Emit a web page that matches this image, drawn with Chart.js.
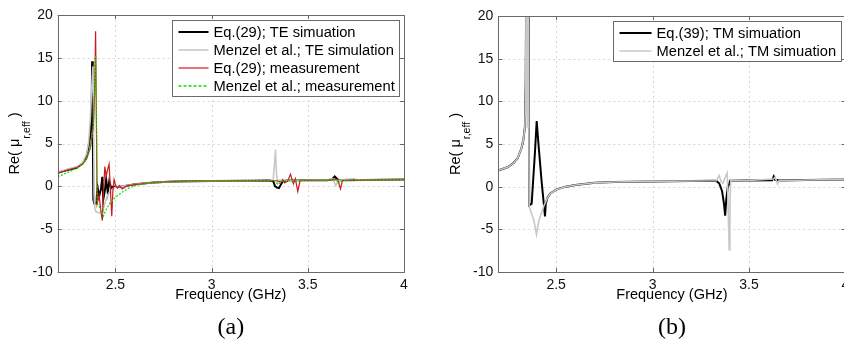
<!DOCTYPE html>
<html>
<head>
<meta charset="utf-8">
<script src="https://cdn.jsdelivr.net/npm/chart.js@4.4.0/dist/chart.umd.min.js"></script>
<style>
  html, body { margin: 0; padding: 0; background: #fff; overflow: hidden; }
  .chart-container { position: absolute; top: 0; height: 342px; }
</style>
</head>
<body>
<div class="chart-container" style="left:0px;width:420px"><canvas id="chartA" width="420" height="342"></canvas></div>
<div class="chart-container" style="left:420px;width:440px"><canvas id="chartB" width="440" height="342"></canvas></div>
<script>
// axis ticks (both panels)
const freqTicks = [2.5, 3, 3.5, 4];
const muTicks = [-10, -5, 0, 5, 10, 15, 20];

// (a) TE - Eq.(29) simulation
const teEqFreq = [2.2, 2.25, 2.3, 2.33, 2.35, 2.36, 2.37, 2.376, 2.379, 2.382, 2.385, 2.39, 2.4, 2.408, 2.415, 2.425, 2.432, 2.437, 2.445, 2.452, 2.46, 2.468, 2.478, 2.49, 2.51, 2.55, 2.6, 2.7, 2.8, 2.9, 3.0, 3.2, 3.3, 3.32, 3.33, 3.34, 3.35, 3.36, 3.37, 3.4, 3.6, 3.625, 3.64, 3.655, 3.67, 3.8, 4.0];
const teEqVal = [1.6, 1.9, 2.2, 2.7, 3.5, 4.6, 6.0, 8, 14.6, 8, -1.5, -2.0, -2.0, -0.2, -1.2, -0.3, 1.1, -1.5, -0.5, 0.8, -0.7, 0.6, -0.2, 0, -0.1, 0.05, 0.25, 0.45, 0.55, 0.6, 0.62, 0.66, 0.68, 0.6, 0.0, -0.15, -0.2, 0.2, 0.6, 0.7, 0.72, 0.8, 1.15, 0.8, 0.72, 0.75, 0.8];

// (a) TE - Menzel et al. simulation
const teMenzelFreq = [2.2, 2.25, 2.3, 2.33, 2.35, 2.36, 2.37, 2.378, 2.383, 2.386, 2.389, 2.393, 2.4, 2.42, 2.435, 2.445, 2.46, 2.48, 2.5, 2.55, 2.6, 2.7, 2.8, 2.9, 3.0, 3.2, 3.3, 3.32, 3.328, 3.332, 3.337, 3.342, 3.35, 3.6, 3.63, 3.645, 3.66, 3.74, 3.76, 4.0];
const teMenzelVal = [1.7, 2.0, 2.3, 2.8, 3.8, 5, 8, 12, 14.0, 10, -1, -2.6, -3.0, -3.1, -2.9, -2.0, -1.0, -0.4, -0.1, 0.05, 0.25, 0.45, 0.55, 0.6, 0.62, 0.66, 0.68, 0.7, 3, 4.3, 1.5, 0.5, 0.7, 0.72, 0.9, 0.1, 0.7, 0.9, 0.75, 0.8];

// (a) TE - Eq.(29) measurement
const teEqMeasFreq = [2.2, 2.25, 2.3, 2.33, 2.35, 2.37, 2.385, 2.392, 2.397, 2.401, 2.405, 2.415, 2.425, 2.432, 2.438, 2.445, 2.452, 2.46, 2.467, 2.472, 2.481, 2.487, 2.493, 2.5, 2.51, 2.52, 2.535, 2.56, 2.6, 2.7, 2.8, 2.9, 3.0, 3.2, 3.34, 3.36, 3.37, 3.38, 3.395, 3.41, 3.425, 3.435, 3.448, 3.46, 3.6, 3.655, 3.67, 3.68, 3.8, 4.0];
const teEqMeasVal = [1.5, 1.9, 2.2, 2.6, 3.2, 4.5, 7, 11, 18.1, 8, -2.0, -1.0, -3.0, -4.0, -0.5, 2.3, 1.2, 2.0, 2.6, 0.5, -3.5, -0.5, 0.8, 0.2, -0.2, 0.1, -0.3, 0.05, 0.2, 0.45, 0.55, 0.6, 0.62, 0.66, 0.65, 0.5, 0.8, 0.4, 0.6, 1.4, 0.3, 0.9, -0.6, 0.7, 0.72, 0.8, -0.3, 0.7, 0.75, 0.8];

// (a) TE - Menzel et al. measurement
const teMenzelMeasFreq = [2.2, 2.25, 2.3, 2.33, 2.35, 2.37, 2.385, 2.392, 2.398, 2.402, 2.406, 2.415, 2.425, 2.437, 2.45, 2.47, 2.49, 2.51, 2.54, 2.57, 2.6, 2.65, 2.7, 2.8, 2.9, 3.0, 3.2, 3.33, 3.345, 3.36, 3.4, 3.6, 3.65, 3.66, 3.67, 3.8, 4.0];
const teMenzelMeasVal = [1.1, 1.6, 2.1, 2.6, 3.3, 4.5, 7, 11, 15.3, 6, -2.0, -2.3, -2.8, -3.5, -2.8, -2.0, -1.5, -1.1, -0.6, -0.2, 0.05, 0.3, 0.4, 0.52, 0.58, 0.62, 0.66, 0.65, 0.2, 0.6, 0.7, 0.72, 0.72, 0.35, 0.7, 0.75, 0.8];

// (b) TM - Eq.(39) simulation
const tmEqFreq = [2.2, 2.25, 2.28, 2.3, 2.32, 2.33, 2.338, 2.342, 2.345, 2.357, 2.36, 2.373, 2.38, 2.39, 2.399, 2.41, 2.425, 2.438, 2.442, 2.446, 2.455, 2.47, 2.5, 2.55, 2.6, 2.7, 2.8, 3.0, 3.2, 3.33, 3.345, 3.36, 3.37, 3.376, 3.382, 3.39, 3.397, 3.402, 3.5, 3.62, 3.628, 3.635, 3.66, 3.8, 4.0];
const tmEqVal = [1.9, 2.3, 2.8, 3.3, 4.5, 5.5, 7, 12, 25, 25, -2.2, -2.0, 0.5, 4, 7.7, 4.5, 0.5, -2.5, -3.5, -2.0, -1.3, -0.8, -0.35, 0, 0.2, 0.45, 0.55, 0.62, 0.66, 0.68, 0.4, -0.5, -2.0, -3.4, -1.5, 0.0, 0.3, 0.7, 0.72, 0.75, 1.2, 0.8, 0.72, 0.78, 0.85];

// (b) TM - Menzel et al. simulation
const tmMenzelFreq = [2.2, 2.25, 2.28, 2.3, 2.32, 2.33, 2.338, 2.342, 2.344, 2.347, 2.35, 2.353, 2.356, 2.36, 2.37, 2.385, 2.398, 2.41, 2.425, 2.437, 2.446, 2.455, 2.47, 2.5, 2.55, 2.6, 2.7, 2.8, 3.0, 3.2, 3.33, 3.345, 3.355, 3.365, 3.38, 3.387, 3.392, 3.397, 3.401, 3.405, 3.5, 3.625, 3.635, 3.648, 3.655, 3.8, 4.0];
const tmMenzelVal = [1.9, 2.3, 2.8, 3.3, 4.5, 5.5, 7, 11.5, 25, 25, 7, 25, 25, -2.3, -3.0, -4.0, -5.6, -4.0, -3.0, -2.2, -1.8, -1.3, -0.8, -0.35, 0, 0.2, 0.45, 0.55, 0.62, 0.66, 0.7, 1.3, 0.6, 0.4, 1.3, 1.6, -3, -7.4, -2, 0.7, 0.72, 0.9, 1.1, 0.3, 0.7, 0.78, 0.85];

const labelsA = ["Eq.(29); TE simuation", "Menzel et al.; TE simulation", "Eq.(29); measurement", "Menzel et al.; measurement"];
const labelsB = ["Eq.(39); TM simuation", "Menzel et al.; TM simuation"];

const SANS = '"Liberation Sans", Arial, sans-serif';

function toPoints(freq, val) {
  return freq.map((f, i) => ({ x: f, y: val[i] }));
}

function makeSet(label, freq, val, color, width, order, dash) {
  return {
    label: label,
    data: toPoints(freq, val),
    borderColor: color,
    backgroundColor: color,
    borderWidth: width,
    borderDash: dash || [],
    pointRadius: 0,
    tension: 0,
    fill: false,
    order: order,
  };
}

// frame, grid, inner ticks, legend and titles, matlab style
const figurePlugin = {
  id: "figure",
  beforeDatasetsDraw(chart) {
    const ctx = chart.ctx;
    const a = chart.chartArea;
    const xs = chart.scales.x, ys = chart.scales.y;
    ctx.save();
    ctx.strokeStyle = "#d6d6d6";
    ctx.lineWidth = 1;
    ctx.setLineDash([2, 3]);
    ctx.beginPath();
    freqTicks.forEach((v) => {
      const px = Math.round(xs.getPixelForValue(v)) + 0.5;
      ctx.moveTo(px, a.top); ctx.lineTo(px, a.bottom);
    });
    muTicks.forEach((v) => {
      const py = Math.round(ys.getPixelForValue(v)) + 0.5;
      ctx.moveTo(a.left, py); ctx.lineTo(a.right, py);
    });
    ctx.stroke();
    ctx.restore();
  },
  afterDraw(chart, args, opts) {
    const ctx = chart.ctx;
    const a = chart.chartArea;
    const xs = chart.scales.x, ys = chart.scales.y;
    ctx.save();

    // inner tick marks
    ctx.strokeStyle = "#666";
    ctx.lineWidth = 1;
    ctx.beginPath();
    freqTicks.forEach((v) => {
      const px = Math.round(xs.getPixelForValue(v)) + 0.5;
      ctx.moveTo(px, a.bottom); ctx.lineTo(px, a.bottom - 4);
      ctx.moveTo(px, a.top); ctx.lineTo(px, a.top + 4);
    });
    muTicks.forEach((v) => {
      const py = Math.round(ys.getPixelForValue(v)) + 0.5;
      ctx.moveTo(a.left, py); ctx.lineTo(a.left + 4, py);
      ctx.moveTo(a.right, py); ctx.lineTo(a.right - 4, py);
    });
    ctx.stroke();

    // box
    ctx.strokeStyle = "#6a6a6a";
    ctx.strokeRect(Math.round(a.left) + 0.5, Math.round(a.top) + 0.5, Math.round(a.right - a.left), Math.round(a.bottom - a.top));

    // legend
    const sets = chart.data.datasets;
    ctx.font = "14.7px " + SANS;
    let maxW = 0;
    sets.forEach((d) => { maxW = Math.max(maxW, ctx.measureText(d.label).width); });
    const lineLen = opts.lineLen;
    const boxW = Math.round(6 + lineLen + 5 + maxW + 5);
    const boxH = sets.length * 18 + 4;
    const bx = Math.round(a.right - 5 - boxW) + 0.5;
    const by = Math.round(a.top + 5) + 0.5;
    ctx.fillStyle = "#fff";
    ctx.fillRect(bx, by, boxW, boxH);
    ctx.strokeStyle = "#6a6a6a";
    ctx.lineWidth = 1;
    ctx.strokeRect(bx, by, boxW, boxH);
    sets.forEach((d, i) => {
      const ry = Math.round(by + 11 + i * 18);
      ctx.strokeStyle = d.borderColor;
      ctx.lineWidth = d.borderDash.length ? 1.5 : d.borderWidth;
      ctx.setLineDash(d.borderDash.length ? [3, 2] : []);
      ctx.beginPath();
      ctx.moveTo(bx + 6, ry); ctx.lineTo(bx + 6 + lineLen, ry);
      ctx.stroke();
      ctx.setLineDash([]);
      ctx.fillStyle = "#000";
      ctx.textAlign = "left";
      ctx.textBaseline = "middle";
      ctx.fillText(d.label, bx + 6 + lineLen + 5, ry + 1);
    });

    // x title
    const cx = (a.left + a.right) / 2;
    ctx.fillStyle = "#000";
    ctx.font = "14.5px " + SANS;
    ctx.textAlign = "center";
    ctx.textBaseline = "alphabetic";
    ctx.fillText("Frequency (GHz)", cx, 299);

    // panel label
    ctx.font = '24px "Liberation Serif", "Times New Roman", serif';
    ctx.fillText(opts.panel, cx, 334);

    // y title with subscript
    const partA = "Re( \u03bc", partSub = "r,eff", partB = " )";
    ctx.font = "14.5px " + SANS;
    const wA = ctx.measureText(partA).width;
    const wB = ctx.measureText(partB).width;
    ctx.font = "10.5px " + SANS;
    const wSub = ctx.measureText(partSub).width;
    const total = wA + wSub + wB;
    ctx.translate(a.left - 38.5, (a.top + a.bottom) / 2);
    ctx.rotate(-Math.PI / 2);
    ctx.textAlign = "left";
    ctx.font = "14.5px " + SANS;
    ctx.fillText(partA, -total / 2, 0);
    ctx.font = "10.5px " + SANS;
    ctx.fillText(partSub, -total / 2 + wA, 10.5);
    ctx.font = "14.5px " + SANS;
    ctx.fillText(partB, -total / 2 + wA + wSub, 0);

    ctx.restore();
  },
};

function buildOptions(yWidth, padRight, padTop, panel, lineLen) {
  return {
    responsive: false,
    animation: false,
    devicePixelRatio: 1,
    layout: { padding: { top: padTop, right: padRight, left: 0, bottom: 0 } },
    plugins: {
      legend: { display: false },
      tooltip: { enabled: false },
      figure: { panel: panel, lineLen: lineLen },
    },
    scales: {
      x: {
        type: "linear",
        min: 2.2,
        max: 4,
        afterBuildTicks: (s) => { s.ticks = freqTicks.map((v) => ({ value: v })); },
        afterFit: (s) => { s.height = 70; },
        grid: { display: false, drawTicks: false },
        border: { display: false },
        ticks: {
          padding: 5,
          color: "#111",
          font: { family: SANS, size: 14 },
          maxRotation: 0,
          callback: (v) => String(v),
        },
      },
      y: {
        type: "linear",
        min: -10,
        max: 20,
        afterBuildTicks: (s) => { s.ticks = muTicks.map((v) => ({ value: v })); },
        afterFit: (s) => { s.width = yWidth; },
        grid: { display: false, drawTicks: false },
        border: { display: false },
        ticks: {
          padding: 5,
          color: "#111",
          font: { family: SANS, size: 14 },
          callback: (v) => String(v),
        },
      },
    },
  };
}

const dataA = {
  datasets: [
    makeSet(labelsA[0], teEqFreq, teEqVal, "#000000", 2, 3),
    makeSet(labelsA[1], teMenzelFreq, teMenzelVal, "#c8c8c8", 1.6, 2),
    makeSet(labelsA[2], teEqMeasFreq, teEqMeasVal, "#d01818", 1.2, 1),
    makeSet(labelsA[3], teMenzelMeasFreq, teMenzelMeasVal, "#00e000", 1.2, 0, [2, 1.5]),
  ],
};

const dataB = {
  datasets: [
    makeSet(labelsB[0], tmEqFreq, tmEqVal, "#000000", 2, 1),
    makeSet(labelsB[1], tmMenzelFreq, tmMenzelVal, "#c8c8c8", 1.6, 0),
  ],
};

new Chart(document.getElementById("chartA"), {
  type: "line",
  data: dataA,
  options: buildOptions(57.7, 16, 15, "(a)", 30),
  plugins: [figurePlugin],
});

new Chart(document.getElementById("chartB"), {
  type: "line",
  data: dataB,
  options: buildOptions(78.3, 14.5, 16, "(b)", 32),
  plugins: [figurePlugin],
});
</script>
</body>
</html>
